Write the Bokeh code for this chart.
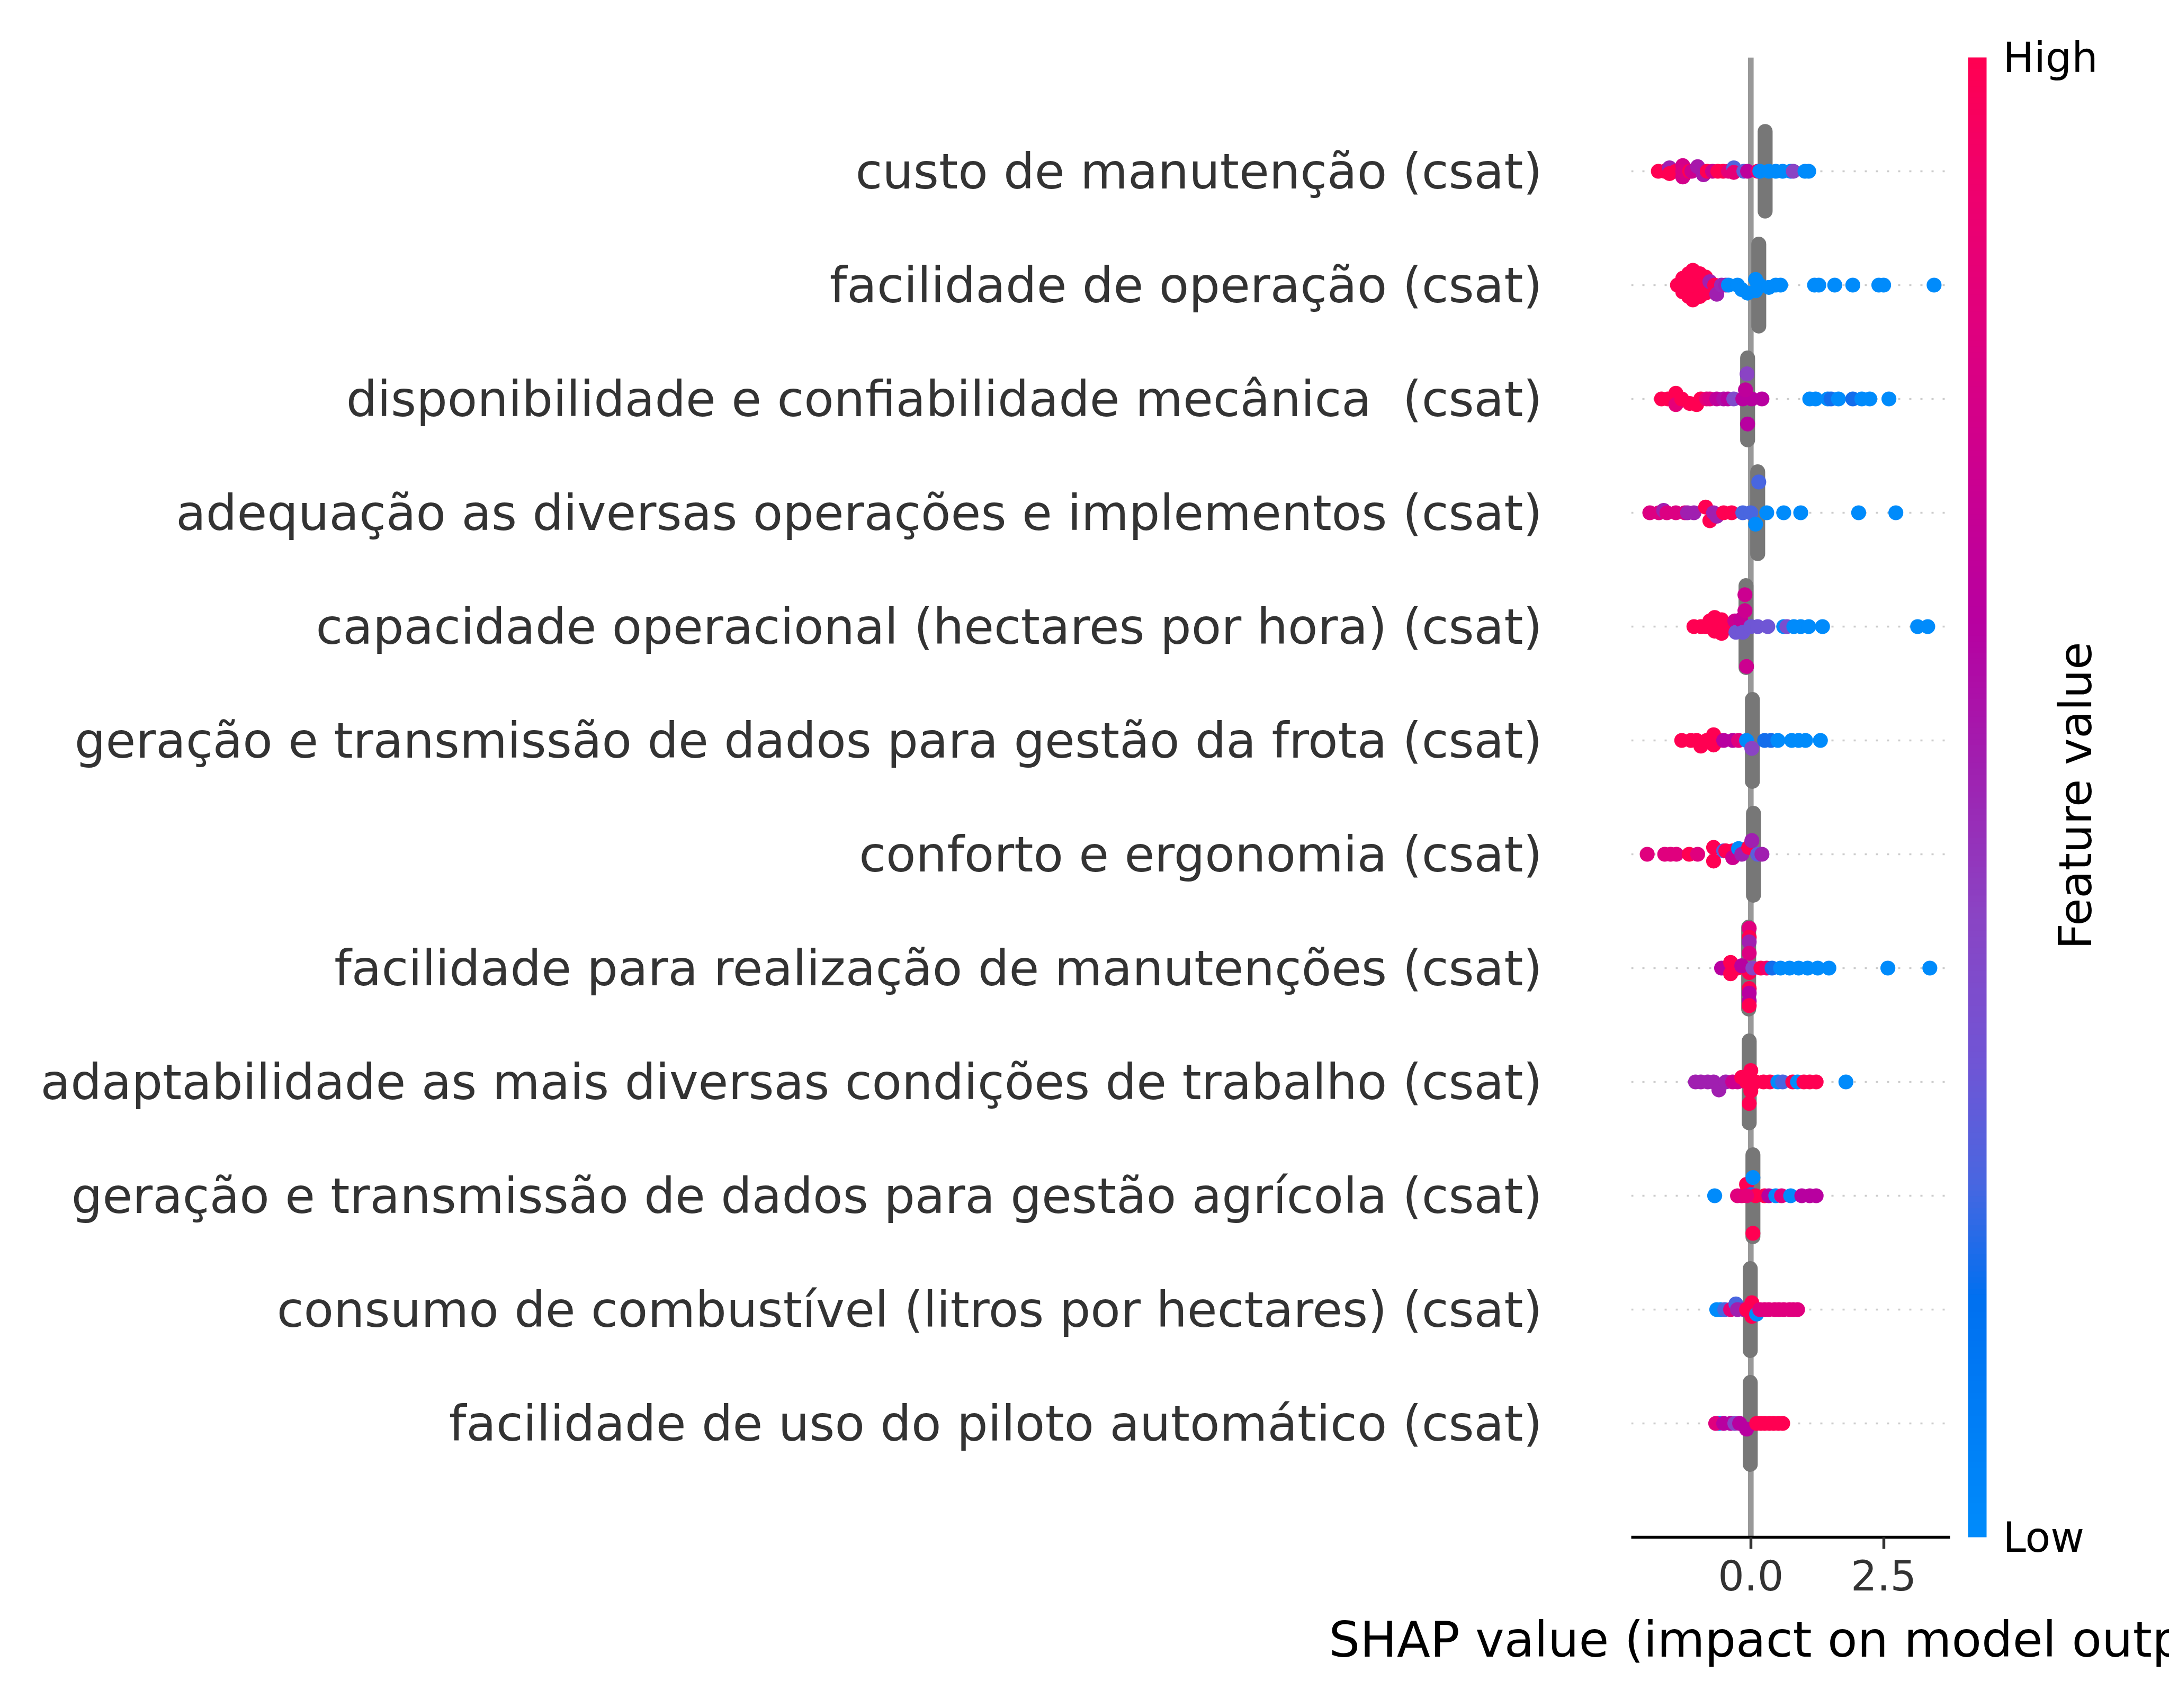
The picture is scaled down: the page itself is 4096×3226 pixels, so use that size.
import numpy as np
from bokeh.plotting import figure
from bokeh.models import (Range1d, FixedTicker, ColorBar, LinearColorMapper, Label,
                          ColumnDataSource, NumeralTickFormatter)
from bokeh.embed import file_html
from bokeh.resources import INLINE

# ---------------- data (top row first) ----------------
features = [
    "custo de manutenção (csat)",
    "facilidade de operação (csat)",
    "disponibilidade e confiabilidade mecânica\u00a0 (csat)",
    "adequação as diversas operações e implementos (csat)",
    "capacidade operacional (hectares por hora) (csat)",
    "geração e transmissão de dados para gestão da frota (csat)",
    "conforto e ergonomia (csat)",
    "facilidade para realização de manutenções (csat)",
    "adaptabilidade as mais diversas condições de trabalho (csat)",
    "geração e transmissão de dados para gestão agrícola (csat)",
    "consumo de combustível (litros por hectares) (csat)",
    "facilidade de uso do piloto automático (csat)",
]

# SHAP value of the stacked points with missing feature value (grey), per row
nan_shap = [0.27, 0.15, -0.06, 0.13, -0.09, 0.03, 0.05, -0.04, -0.03, 0.04, -0.01, -0.01]
nan_spread = [0.35, 0.36, 0.36, 0.36, 0.36, 0.36, 0.36, 0.36, 0.36, 0.36, 0.36, 0.36]

r01_shap = [-1.74, -1.62, -1.53, -1.53, -1.41, -1.28, -1.28, -1.28, -1.15, -1.11, -1.00, -0.89, -0.82,
            -0.72, -0.62, -0.52, -0.42, -0.32, -0.32, -0.13, -0.06, 0.13, 0.17, 0.34, 0.47, 0.60, 0.75,
            0.80, 1.02, 1.09]
r01_off = [0, 0, 0.03, -0.02, 0, 0.05, -0.05, 0, 0, 0, 0.04, -0.03, 0, 0, 0, 0, 0, 0.03, -0.01, 0, 0,
           0, 0, 0, 0, 0, 0, 0, 0, 0]
r01_val = [1, 1, 0.52, 1, 1, 0.75, 0.75, 0.78, 1, 0.72, 0.55, 0.55, 1, 0.72, 1, 1, 0.85, 0.25, 0.85,
           0.28, 0.65, 0.92, 0, 0, 0, 0, 0, 0.42, 0, 0]

r02_shap = [-1.38, -1.28, -1.28, -1.17, -1.17, -1.17, -1.09, -1.09, -1.09, -0.96, -0.96, -0.96, -0.85,
            -0.85, -0.77, -0.68, -0.64, -0.55, -0.47, -0.42, -0.25, -0.17, -0.06, 0.09, 0.09, 0.17,
            0.34, 0.47, 0.56, 1.20, 1.28, 1.58, 1.92, 2.41, 2.50, 3.45]
r02_off = [0, 0.06, -0.06, 0.1, 0, -0.1, 0.13, 0, -0.13, 0.1, 0, -0.1, 0.07, -0.07, 0.03, 0, -0.08, 0,
           0, 0, 0, -0.04, -0.07, 0.05, -0.05, 0, -0.02, 0, 0, 0, 0, 0, 0, 0, 0, 0]
r02_val = [1, 1, 1, 1, 1, 1, 1, 1, 1, 1, 1, 1, 1, 1, 0.52, 1, 0.52, 0.5, 0.52, 0, 0, 0, 0, 0, 0, 0, 0,
           0, 0, 0, 0, 0, 0, 0, 0, 0]

r03_shap = [-1.68, -1.56, -1.41, -1.41, -1.30, -1.15, -1.02, -0.94, -0.83, -0.77, -0.64, -0.51, -0.43,
            -0.32, -0.15, 0.02, 0.21, 1.11, 1.22, 1.45, 1.51, 1.65, 1.92, 2.09, 2.24, 2.60, -0.07,
            -0.10, -0.06]
r03_off = [0, 0, 0.05, -0.05, 0, -0.04, -0.05, 0, 0, 0, 0, 0, 0, 0, 0, 0, 0, 0, 0, 0, 0, 0, 0, 0, 0,
           0, 0.22, 0.08, -0.22]
r03_val = [1, 1, 1, 0.85, 1, 1, 1, 1, 0.85, 0.8, 0.65, 0.58, 0.62, 0.38, 0.62, 0.62, 0.62, 0, 0, 0,
           0.18, 0, 0.18, 0, 0, 0, 0.42, 0.65, 0.62]

r04_shap = [-1.90, -1.73, -1.64, -1.58, -1.41, -1.24, -1.19, -1.07, -0.85, -0.77, -0.70, -0.64, -0.51,
            -0.36, -0.15, 0.00, 0.09, 0.30, 0.62, 0.94, 2.03, 2.73, 0.15]
r04_off = [0, 0, 0.02, 0, 0, 0, 0, 0, 0.05, -0.07, 0, -0.03, 0, 0, 0, 0, -0.1, 0, 0, 0, 0, 0, 0.27]
r04_val = [0.8, 0.8, 0.52, 0.8, 0.8, 0.8, 0.52, 0.52, 1, 1, 0.52, 0.52, 1, 1, 0.24, 0.24, 0, 0, 0, 0,
           0, 0, 0.24]

r05_shap = [-1.07, -0.94, -0.85, -0.77, -0.68, -0.68, -0.55, -0.55, -0.49, -0.30, -0.28, -0.19, -0.15,
            0.00, 0.13, 0.32, 0.62, 0.68, 0.81, 0.94, 1.09, 1.35, 3.14, 3.33, -0.11, -0.11, -0.08]
r05_off = [0, 0, 0, 0.05, -0.04, 0.08, -0.06, 0.06, 0, 0.05, -0.05, 0.06, -0.05, 0, 0, 0, 0, 0, 0, 0,
           0, 0, 0, 0, 0.28, 0.14, -0.35]
r05_val = [1, 1, 1, 1, 1, 1, 1, 1, 1, 0.72, 0.32, 0.68, 0.32, 0.32, 0.32, 0.32, 0, 0.36, 0, 0, 0, 0,
           0, 0, 0.72, 0.72, 0.72]

r06_shap = [-1.30, -1.13, -1.02, -0.94, -0.83, -0.70, -0.70, -0.60, -0.51, -0.34, -0.23, -0.08, 0.02,
            0.26, 0.38, 0.51, 0.77, 0.90, 1.03, 1.31]
r06_off = [0, 0, 0, -0.05, 0, -0.04, 0.05, 0, 0, 0, 0, 0, -0.07, 0, 0, 0, 0, 0, 0, 0]
r06_val = [1, 1, 1, 1, 1, 1, 1, 1, 0.62, 0.62, 0.82, 0, 0.42, 0.18, 0.18, 0, 0, 0, 0, 0]

r07_shap = [-1.95, -1.62, -1.51, -1.40, -1.16, -1.00, -0.70, -0.70, -0.51, -0.47, -0.34, -0.34, -0.23,
            -0.17, -0.04, 0.02, 0.13, 0.21]
r07_off = [0, 0, 0, 0, 0, 0, 0.06, -0.06, 0.03, 0.03, 0.03, -0.03, 0.05, 0, 0.06, 0.12, 0, 0]
r07_val = [0.82, 0.82, 0.82, 0.82, 1, 0.82, 1, 1, 0.28, 1, 1, 0.72, 0, 0.52, 1, 0.52, 0.28, 0.52]

r08_shap = [-0.03, -0.03, -0.03, -0.03, -0.03, -0.03, -0.03, -0.03, -0.03, -0.55, -0.38, -0.38, -0.25,
            -0.17, 0.04, 0.19, 0.30, 0.40, 0.56, 0.73, 0.90, 1.07, 1.26, 1.47, 2.58, 3.37]
r08_off = [0.35, 0.27, 0.23, 0.13, -0.04, -0.18, -0.22, -0.29, -0.33, 0, 0.05, -0.05, 0, 0.02, 0, 0, 0,
           0, 0, 0, 0, 0, 0, 0, 0, 0]
r08_val = [0.82, 1, 0.52, 0.8, 1, 1, 0.62, 0.62, 1, 0.62, 1, 1, 1, 0.62, 0.42, 1, 0.92, 0.18, 0, 0, 0,
           0, 0, 0, 0, 0]

r09_shap = [-1.04, -0.94, -0.81, -0.70, -0.60, -0.47, -0.34, -0.25, -0.17, -0.08, 0.00, 0.00, 0.00,
            -0.03, 0.09, 0.24, 0.36, 0.51, 0.60, 0.79, 0.88, 1.00, 1.11, 1.23, 1.79]
r09_off = [0, 0, 0, 0, -0.07, 0, 0, 0, 0.04, 0, 0.1, 0, -0.08, -0.19, 0, 0, 0, 0, 0, 0, 0, 0, 0, 0, 0]
r09_val = [0.52, 0.52, 0.52, 0.52, 0.52, 0.52, 0.72, 0.72, 1, 1, 1, 1, 1, 1, 1, 1, 1, 0, 0.24, 1, 0,
           1, 1, 1, 0]

r10_shap = [-0.68, -0.25, -0.17, -0.08, 0.00, 0.09, 0.26, 0.34, 0.47, 0.58, 0.75, 0.96, 1.11, 1.23,
            0.04, 0.04, -0.08]
r10_off = [0, 0, 0, 0.1, 0.01, 0, 0, 0, 0, 0, 0, 0, 0, 0, 0.16, -0.33, 0]
r10_val = [0, 0.82, 0.82, 1, 0.18, 1, 1, 0.62, 0, 0.82, 0, 0.62, 0.62, 0.62, 0, 1, 0.85]

r11_shap = [-0.64, -0.57, -0.49, -0.38, -0.28, -0.25, -0.13, -0.08, 0.02, 0.02, 0.11, 0.17, 0.26,
            0.34, 0.45, 0.53, 0.62, 0.73, 0.80, 0.88]
r11_off = [0, 0, 0, 0, 0.05, 0, 0, 0, 0.06, -0.06, -0.04, 0, 0, 0, 0, 0, 0, 0, 0, 0]
r11_val = [0, 0, 0.24, 0.85, 0.24, 0.52, 0.52, 1, 1, 1, 0, 0.82, 0.82, 0.82, 0.82, 0.82, 0.82, 0.82,
           0.82, 0.82]

r12_shap = [-0.60, -0.66, -0.51, -0.38, -0.30, -0.21, -0.08, 0.11, 0.19, 0.26, 0.35, 0.43, 0.52, 0.60]
r12_off = [0, 0, 0, 0, 0, 0, -0.05, 0, 0, 0, 0, 0, 0, 0]
r12_val = [0, 0.82, 0.62, 0.62, 0.42, 0.62, 0.62, 1, 1, 1, 1, 1, 1, 1]

xtick_values = [0, 2.5]

rows = [
    (r01_shap, r01_off, r01_val), (r02_shap, r02_off, r02_val), (r03_shap, r03_off, r03_val),
    (r04_shap, r04_off, r04_val), (r05_shap, r05_off, r05_val), (r06_shap, r06_off, r06_val),
    (r07_shap, r07_off, r07_val), (r08_shap, r08_off, r08_val), (r09_shap, r09_off, r09_val),
    (r10_shap, r10_off, r10_val), (r11_shap, r11_off, r11_val), (r12_shap, r12_off, r12_val),
]

# ---------------- colour map (SHAP red-blue) ----------------
stops = [(0.0, "#008bfb"), (0.16, "#0070f0"), (0.24, "#4a66e0"), (0.32, "#7055d5"),
         (0.42, "#8a44c4"), (0.52, "#a020b0"), (0.62, "#b800a0"), (0.72, "#cc0090"),
         (0.82, "#e0007e"), (0.92, "#f0006c"), (1.0, "#ff0052")]
pos = np.array([s[0] for s in stops])
rgb = np.array([[int(c[1:3], 16), int(c[3:5], 16), int(c[5:7], 16)] for _, c in stops], float)
t = np.linspace(0, 1, 256)
palette = ["#%02x%02x%02x" % tuple(int(round(np.interp(tt, pos, rgb[:, k]))) for k in range(3))
           for tt in t]
mapper = LinearColorMapper(palette=palette, low=0, high=1)

# ---------------- figure ----------------
W, H = 4096, 3226
n = len(features)
FONT = "DejaVu Sans"

p = figure(width=W, height=H, x_range=Range1d(-2.25, 3.75), y_range=Range1d(-1, n),
           output_backend="svg", toolbar_location=None)
p.min_border_left = 3080
p.min_border_right = 414
p.min_border_top = 108
p.min_border_bottom = 323
p.outline_line_color = None
p.xgrid.visible = False
p.ygrid.visible = False
p.background_fill_color = "white"
p.border_fill_color = "white"

ypos = [n - 1 - i for i in range(n)]

# dotted row guides
p.segment(x0=[-2.25] * n, x1=[3.75] * n, y0=ypos, y1=ypos, line_color="#cccccc",
          line_width=3.56, line_dash="4 17")
# zero line
p.segment(x0=[0], x1=[0], y0=[-1], y1=[n], line_color="#999999", line_width=10.7)

# grey stacks (missing feature values)
p.segment(x0=nan_shap, x1=nan_shap,
          y0=[y - s for y, s in zip(ypos, nan_spread)],
          y1=[y + s for y, s in zip(ypos, nan_spread)],
          line_color="#777777", line_width=28.2, line_cap="round")

xs, ys, vs = [], [], []
for y, (sh, off, val) in zip(ypos, rows):
    for a, b, c in zip(sh, off, val):
        xs.append(a)
        ys.append(y + b)
        vs.append(c)
src = ColumnDataSource(dict(x=xs, y=ys, v=vs))
p.scatter("x", "y", source=src, size=28.2, line_color=None,
          fill_color={"field": "v", "transform": mapper})

# y axis (feature names)
p.yaxis.ticker = FixedTicker(ticks=ypos)
p.yaxis.major_label_overrides = {y: f for y, f in zip(ypos, features)}
p.yaxis.axis_line_color = None
p.yaxis.major_tick_line_color = None
p.yaxis.minor_tick_line_color = None
p.yaxis.major_tick_out = 0
p.yaxis.major_tick_in = 0
p.yaxis.major_label_standoff = 168
p.yaxis.major_label_text_font_size = "92.4px"
p.yaxis.major_label_text_color = "#333333"
p.yaxis.major_label_text_font = FONT

# x axis
p.xaxis.ticker = FixedTicker(ticks=xtick_values)
p.xaxis.formatter = NumeralTickFormatter(format="0.0")
p.xaxis.axis_line_color = "black"
p.xaxis.axis_line_width = 5.7
p.xaxis.major_tick_out = 22
p.xaxis.major_tick_in = 0
p.xaxis.major_tick_line_width = 5.4
p.xaxis.major_tick_line_color = "#333333"
p.xaxis.minor_tick_line_color = None
p.xaxis.major_label_text_font_size = "78px"
p.xaxis.major_label_text_color = "#333333"
p.xaxis.major_label_text_font = FONT
p.xaxis.major_label_standoff = 20
p.xaxis.axis_label = "SHAP value (impact on model output)"
p.xaxis.axis_label_text_font_size = "92.4px"
p.xaxis.axis_label_text_font_style = "normal"
p.xaxis.axis_label_text_color = "black"
p.xaxis.axis_label_text_font = FONT
p.xaxis.axis_label_standoff = 36

# colour bar
cb = ColorBar(color_mapper=mapper, orientation="vertical", width=35, height=2795,
              location=(34, 0), margin=0, padding=0,
              ticker=FixedTicker(ticks=[0, 1]), major_label_overrides={0: "Low", 1: "High"},
              major_label_text_font_size="78px", major_label_text_color="black",
              major_label_text_font=FONT, label_standoff=31,
              major_tick_line_color=None, minor_tick_line_color=None,
              bar_line_color=None, border_line_color=None, background_fill_color=None)
p.add_layout(cb, "right")

p.add_layout(Label(x=6.112, y=5.515, text="Feature value", angle=np.pi / 2,
                   text_align="center", text_baseline="middle", text_font=FONT,
                   text_font_size="85px", text_color="black"), "right")

open("out.html", "w").write(file_html(p, INLINE))
